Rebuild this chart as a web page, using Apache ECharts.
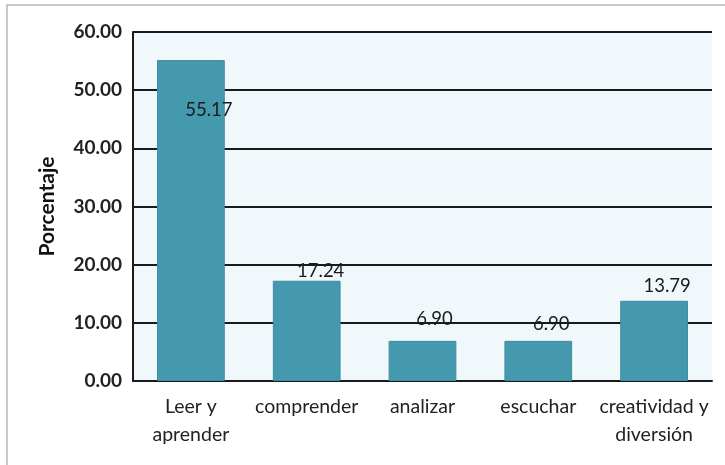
<!DOCTYPE html>
<html>
<head>
<meta charset="utf-8">
<script src="https://cdn.jsdelivr.net/npm/echarts@6/dist/echarts.min.js"></script>
<style>
  html, body { margin: 0; padding: 0; background: #ffffff; }
  #chart { width: 725px; height: 465px; }
</style>
</head>
<body>
<div id="chart"></div>
<script>
// Categories and percentages
const categories = ['Leer y\naprender', 'comprender', 'analizar', 'escuchar', 'creatividad y\ndiversión'];
const values = [55.17, 17.24, 6.90, 6.90, 13.79];
const yTicks = [0, 10, 20, 30, 40, 50, 60];

const FONT = 'Lato, "Open Sans", sans-serif';

// Hand-placed label offsets [dx, dy] relative to the top of each bar
const labelOffsets = [[18, 59], [14, 0], [12, -12], [13, -7], [13, -5]];

const chart = echarts.init(document.getElementById('chart'), null, { renderer: 'canvas' });

chart.setOption({
  animation: false,
  backgroundColor: '#ffffff',
  graphic: [{
    type: 'rect',
    shape: { x: 7, y: 5, width: 740, height: 480 },
    style: { fill: 'none', stroke: '#b8b8b8', lineWidth: 1.5 },
    silent: true,
    z: -10
  }],
  grid: {
    left: 133, right: 13, top: 32, bottom: 84,
    show: true, backgroundColor: '#f1f8fb', borderWidth: 0
  },
  xAxis: {
    type: 'category',
    data: categories,
    axisLine: { show: true, lineStyle: { color: '#1a1a1a', width: 2 } },
    axisTick: { show: false },
    axisLabel: {
      color: '#222', fontFamily: FONT, fontSize: 19.5, lineHeight: 28,
      margin: 12, interval: 0
    }
  },
  yAxis: {
    type: 'value',
    min: yTicks[0], max: yTicks[yTicks.length - 1], interval: 10,
    name: 'Porcentaje',
    nameLocation: 'middle',
    nameRotate: 90,
    nameGap: 75,
    nameTextStyle: { color: '#111', fontFamily: FONT, fontSize: 21, fontWeight: 'bold' },
    axisLine: { show: true, lineStyle: { color: '#1a1a1a', width: 2 } },
    axisTick: { show: false },
    splitLine: { show: true, lineStyle: { color: '#1a1a1a', width: 2 } },
    axisLabel: {
      color: '#222', fontFamily: FONT, fontSize: 19, fontWeight: 'bold', margin: 11,
      formatter: v => v.toFixed(2)
    }
  },
  series: [{
    type: 'bar',
    barWidth: '58.5%',
    data: values.map((v, i) => ({
      value: v,
      label: { offset: labelOffsets[i] }
    })),
    itemStyle: { color: '#4599ae', borderColor: '#3c8da1', borderWidth: 1 },
    label: {
      show: true,
      position: 'top',
      distance: 0,
      color: '#1a1a1a',
      fontFamily: FONT,
      fontSize: 18.5,
      formatter: p => p.value.toFixed(2)
    }
  }]
});
</script>
</body>
</html>
